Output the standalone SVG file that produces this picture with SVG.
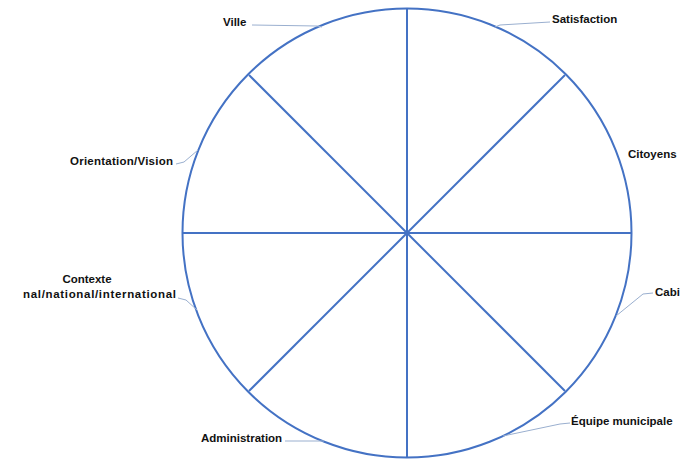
<svg xmlns="http://www.w3.org/2000/svg" width="681" height="462" viewBox="0 0 681 462">
<style>
.shape{fill:none;stroke:#4472C4;stroke-width:2}
.leader{fill:none;stroke:#9AAFCF;stroke-width:1}
.lbl{font-family:"Liberation Sans",Arial,sans-serif;font-weight:bold;font-size:11.5px;fill:#111}
</style>
<rect width="681" height="462" fill="#fff"/>
<g id="wheel">
<circle class="shape" cx="407" cy="233" r="224.5"/>
<line class="shape" x1="407" y1="9" x2="407" y2="458"/>
<line class="shape" x1="182" y1="233" x2="632" y2="233"/>
<line class="shape" x1="249" y1="75" x2="565" y2="391"/>
<line class="shape" x1="565" y1="75" x2="249" y2="391"/>
</g>
<g id="connectors">
<polyline class="leader" points="252,25 317,26 322,27"/>
<polyline class="leader" points="550,22 500,25 495,27"/>
<polyline class="leader" points="176,164 184,162 198,150"/>
<polyline class="leader" points="178,298 186,300 197,310"/>
<polyline class="leader" points="653,293 643,294 616,316"/>
<polyline class="leader" points="285,441 324,441"/>
<polyline class="leader" points="570,423 560,424 503,436"/>
</g>
<g id="n-ville"><text class="lbl" x="223" y="26">Ville</text></g>
<g id="n-satisfaction"><text class="lbl" x="552" y="23">Satisfaction</text></g>
<g id="n-orientation"><text class="lbl" x="70" y="165" textLength="103" lengthAdjust="spacing">Orientation/Vision</text></g>
<g id="n-citoyens"><text class="lbl" x="628" y="158">Citoyens</text></g>
<g id="n-contexte"><text class="lbl" x="87" y="283" text-anchor="middle">Contexte</text><text class="lbl" x="23" y="298" textLength="153" lengthAdjust="spacing">nal/national/international</text></g>
<g id="n-cabinet"><text class="lbl" x="655" y="296">Cabi</text></g>
<g id="n-administration"><text class="lbl" x="201" y="442">Administration</text></g>
<g id="n-equipe"><text class="lbl" x="571" y="425">Équipe municipale</text></g>
</svg>
